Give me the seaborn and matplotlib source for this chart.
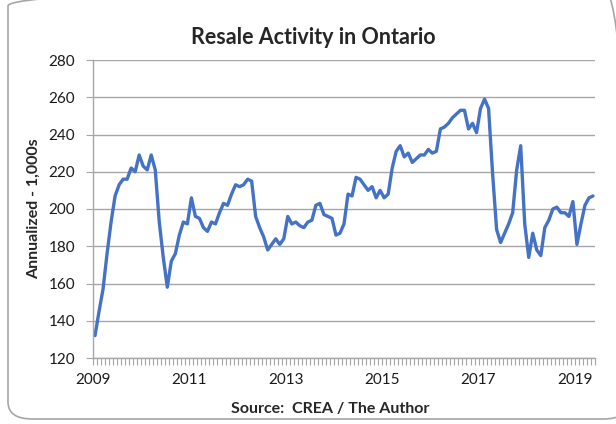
import numpy as np
import pandas as pd
import seaborn as sns
import matplotlib.pyplot as plt
from matplotlib.patches import FancyBboxPatch
from matplotlib.ticker import MultipleLocator

# monthly resale activity, Jan 2009 - May 2019 (annualized, thousands)
sales = [
    132, 145, 157, 176, 193, 207, 213, 216, 216, 222, 220, 229,
    223, 221, 229, 221, 193, 174, 158, 172, 176, 186, 193, 192,
    206, 196, 195, 190, 188, 193, 192, 198, 203, 202, 208, 213,
    212, 213, 216, 215, 196, 190, 185, 178, 181, 184, 181, 184,
    196, 192, 193, 191, 190, 193, 194, 202, 203, 197, 196, 195,
    186, 187, 192, 208, 207, 217, 216, 213, 210, 212, 206, 210,
    206, 208, 222, 231, 234, 228, 230, 225, 227, 229, 229, 232,
    230, 231, 243, 244, 246, 249, 251, 253, 253, 243, 246, 241,
    254, 259, 254, 219, 189, 182, 187, 192, 198, 221, 234, 192,
    174, 187, 178, 175, 190, 194, 200, 201, 198, 198, 196, 204,
    181, 192, 202, 206, 207,
]
start_year = 2009
year_ticks = [2009, 2011, 2013, 2015, 2017, 2019]
y_ticks = [120, 140, 160, 180, 200, 220, 240, 260, 280]

df = pd.DataFrame({"sales": sales})
df["year"] = start_year + (np.arange(len(df)) + 0.5) / 12

sns.set_style("white")
plt.rcParams["font.family"] = ["Lato", "DejaVu Sans"]

fig = plt.figure(figsize=(6.16, 4.24), dpi=100)
ax = fig.add_axes([93 / 616, 1 - 358 / 424, (595 - 93) / 616, (358 - 60) / 424])

# rounded chart border
border = FancyBboxPatch((8 / 616, 5 / 424), 620 / 616, 430 / 424,
                        boxstyle="round,pad=0,rounding_size=0.04",
                        transform=fig.transFigure, facecolor="none",
                        edgecolor="#a6a6a6", linewidth=1.2, zorder=0)
fig.patches.append(border)

sns.lineplot(x="year", y="sales", data=df, ax=ax, color="#4472c4", linewidth=2.4)

ax.set_xlim(start_year, start_year + 125 / 12)
ax.set_ylim(120, 280)
ax.set_xticks(year_ticks)
ax.set_xticklabels([str(y) for y in year_ticks])
ax.xaxis.set_minor_locator(MultipleLocator(1 / 12))
ax.set_yticks(y_ticks)

ax.grid(axis="y", color="#a6a6a6", linewidth=1.0)
ax.grid(axis="x", visible=False)
ax.set_axisbelow(True)
for side in ["top", "right"]:
    ax.spines[side].set_visible(False)
for side in ["left", "bottom"]:
    ax.spines[side].set_color("#a6a6a6")
    ax.spines[side].set_linewidth(1.0)

ax.tick_params(axis="x", which="both", direction="out", length=5, width=0.8,
               color="#a6a6a6", labelsize=11, pad=6, bottom=True, labelcolor="#1a1a1a")
ax.tick_params(axis="y", direction="out", length=5, width=0.8,
               color="#a6a6a6", labelsize=11, pad=8, left=True, labelcolor="#1a1a1a")

ax.set_xlabel("")
ax.set_ylabel("Annualized - 1,000s", fontsize=11.5, fontweight="bold", labelpad=5)
fig.text(313 / 616, 1 - 37 / 424, "Resale Activity in Ontario", fontsize=15.5,
         fontweight="bold", ha="center", va="center")
fig.text(330 / 616, 1 - 409 / 424, "Source:  CREA / The Author", fontsize=11.5,
         fontweight="bold", ha="center", va="center")

fig.savefig("out.png", dpi=100)
